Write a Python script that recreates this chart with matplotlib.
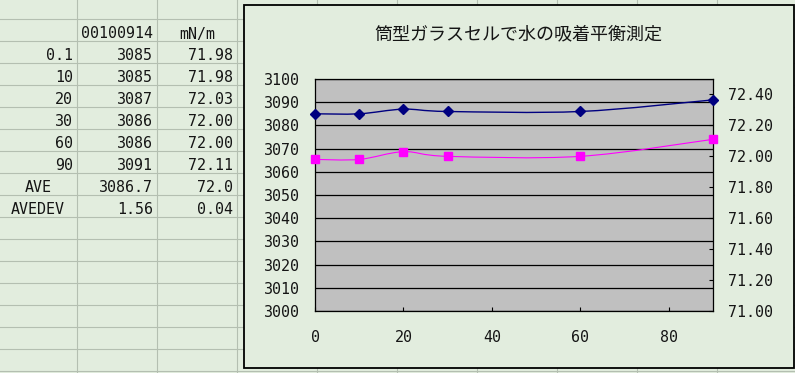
import numpy as np
import matplotlib
matplotlib.use("Agg")
import matplotlib.pyplot as plt
from matplotlib.path import Path
from matplotlib.patches import PathPatch, Rectangle
from matplotlib.ticker import FormatStrFormatter

# ---------------- data ----------------
time_labels = ["0.1", "10", "20", "30", "60", "90"]
time_min = [0.1, 10, 20, 30, 60, 90]
counts = [3085, 3085, 3087, 3086, 3086, 3091]
tension = [71.98, 71.98, 72.03, 72.00, 72.00, 72.11]
tension_labels = ["71.98", "71.98", "72.03", "72.00", "72.00", "72.11"]
header = ["", "00100914", "mN/m"]
ave_row = ["AVE", "3086.7", "72.0"]
avedev_row = ["AVEDEV", "1.56", "0.04"]
title = "筒型ガラスセルで水の吸着平衡測定"
x_ticks = [0, 20, 40, 60, 80]
left_ticks = list(range(3000, 3101, 10))
right_ticks = [71.0, 71.2, 71.4, 71.6, 71.8, 72.0, 72.2, 72.4]

W, H = 795, 373
SHEET = "#e2edde"
GRID = "#b4bfb1"
NUMFONT = ["DejaVu Sans Mono", "DejaVu Sans"]
JPFONT = ["Noto Sans CJK JP", "DejaVu Sans"]
TXT = "#151515"

fig = plt.figure(figsize=(W / 100, H / 100), dpi=100, facecolor=SHEET)

# ---------- spreadsheet background ----------
bg = fig.add_axes([0, 0, 1, 1])
bg.set_xlim(0, W)
bg.set_ylim(H, 0)
bg.axis("off")
for xv in [77, 157, 237, 317, 397, 477, 557, 637, 717]:
    bg.plot([xv, xv], [0, H], color=GRID, lw=0.8)
for k in range(18):
    yv = 19.3 + 22 * k
    bg.plot([0, W], [yv, yv], color=GRID, lw=0.8)

fs_cell = 10.8
def cell(x, row, s, ha):
    bg.text(x, 38.5 + 22 * row, s, ha=ha, va="baseline", fontsize=fs_cell,
            family=NUMFONT, color=TXT)

cell(117, 0, header[1], "center")
cell(197, 0, header[2], "center")
for i in range(len(time_labels)):
    cell(73, i + 1, time_labels[i], "right")
    cell(153, i + 1, str(counts[i]), "right")
    cell(233, i + 1, tension_labels[i], "right")
cell(38, 7, ave_row[0], "center")
cell(153, 7, ave_row[1], "right")
cell(233, 7, ave_row[2], "right")
cell(38, 8, avedev_row[0], "center")
cell(153, 8, avedev_row[1], "right")
cell(233, 8, avedev_row[2], "right")

# chart area
bg.add_patch(Rectangle((243.5, 5), 550, 363, facecolor=SHEET,
                       edgecolor="black", lw=1.3, zorder=5))
bg.text(518.5, 34.5, title, ha="center", va="center", fontsize=13,
        family=JPFONT, color=TXT, zorder=6)

# ---------- plot area ----------
L, R, T, B = 315, 713, 79, 311
ax = fig.add_axes([L / W, 1 - B / H, (R - L) / W, (B - T) / H])
ax.set_facecolor("#c0c0c0")
ax.set_xlim(0, 90)
ax.set_ylim(3000, 3100)
ax.set_yticks(left_ticks)
ax.set_xticks(x_ticks)
ax.grid(axis="y", color="black", lw=0.9)
ax.set_axisbelow(True)
for sp in ax.spines.values():
    sp.set_color("black")
    sp.set_linewidth(0.9)
ax.tick_params(axis="y", length=0, pad=10.8, labelsize=10.8)
ax.tick_params(axis="x", direction="in", length=3, width=0.8, pad=14, labelsize=10.8)
for lab in ax.get_xticklabels() + ax.get_yticklabels():
    lab.set_family(NUMFONT)
    lab.set_color(TXT)

ax2 = ax.twinx()
ax2.set_ylim(71.0, 72.5)
ax2.set_yticks(right_ticks)
ax2.yaxis.set_major_formatter(FormatStrFormatter("%.2f"))
ax2.tick_params(axis="y", direction="in", length=3, width=0.8, pad=10.8, labelsize=10.8)
for lab in ax2.get_yticklabels():
    lab.set_family(NUMFONT)
    lab.set_color(TXT)
for sp in ax2.spines.values():
    sp.set_visible(False)


def smooth_path(xs, ys):
    pts = np.column_stack([xs, ys]).astype(float)
    n = len(pts)
    verts = [pts[0]]
    codes = [Path.MOVETO]
    for i in range(n - 1):
        p0 = pts[i - 1] if i > 0 else pts[i]
        p1, p2 = pts[i], pts[i + 1]
        p3 = pts[i + 2] if i + 2 < n else pts[i + 1]
        verts += [p1 + (p2 - p0) / 6, p2 - (p3 - p1) / 6, p2]
        codes += [Path.CURVE4] * 3
    return Path(verts, codes)


ax.add_patch(PathPatch(smooth_path(time_min, counts), facecolor="none",
                       edgecolor="#000080", lw=1.0, zorder=3))
ax.plot(time_min, counts, ls="none", marker="D", ms=5, color="#000080",
        zorder=4, clip_on=False)

ax2.add_patch(PathPatch(smooth_path(time_min, tension), facecolor="none",
                        edgecolor="#ff00ff", lw=0.8, zorder=3))
ax2.plot(time_min, tension, ls="none", marker="s", ms=5.4, color="#ff00ff",
         zorder=4, clip_on=False)

fig.savefig("out.png", dpi=100, facecolor=SHEET)
